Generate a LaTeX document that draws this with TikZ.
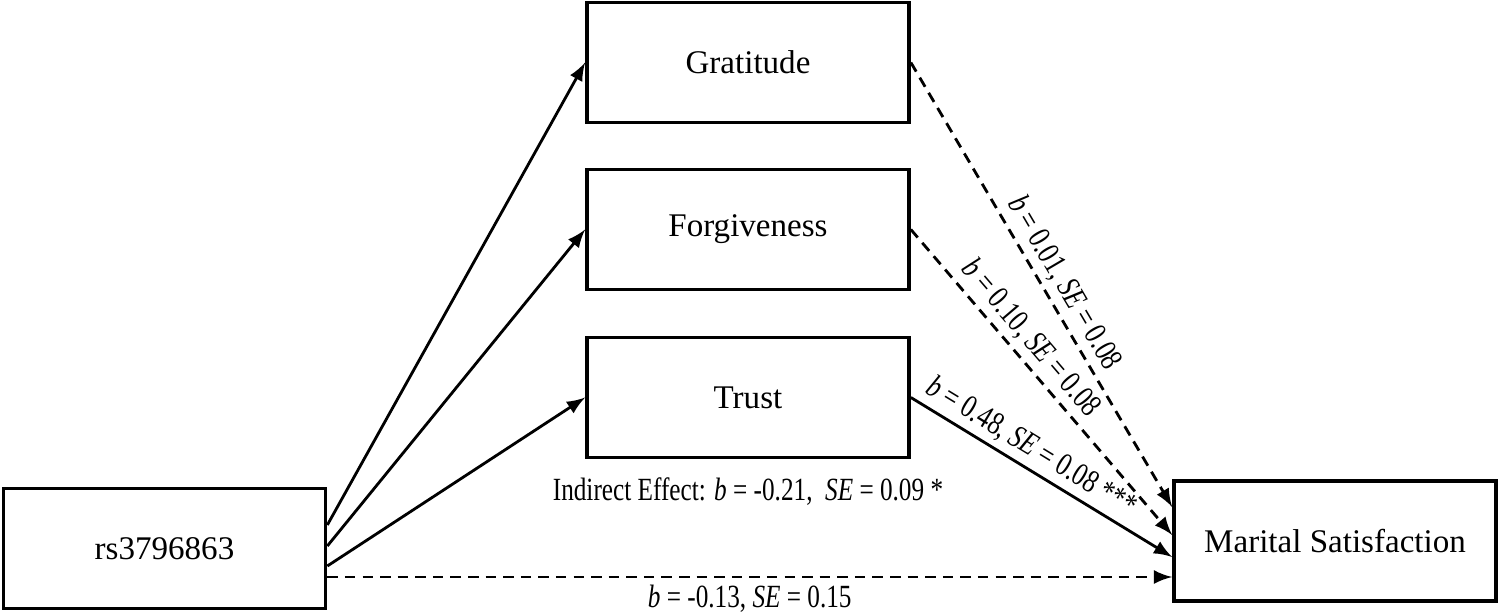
\documentclass[tikz,border=0pt]{standalone}
\usepackage{fontspec}
\setmainfont{Liberation Serif}
\newfontfamily\coeffont[FakeStretch=0.78]{Liberation Serif}
\usetikzlibrary{arrows, positioning}

\begin{document}
\begin{tikzpicture}[
    x=0.01cm, y=-0.01cm,
    var/.style={rectangle, draw, line width=1pt, minimum width=3.22cm, minimum height=1.2cm, inner sep=0pt, font=\fontsize{9.4}{11}\selectfont},
    path/.style={-latex, line width=0.8pt},
    nspath/.style={path, dash pattern=on 3pt off 2pt},
    coef/.style={font=\coeffont\fontsize{9.2}{11}\selectfont, inner sep=1.5pt}
]
\useasboundingbox (0,0) rectangle (1499,616);
\node[var] (snp) at (164.5, 548.5) {rs3796863};
\node[var] (grat) at (748, 62.5) {Gratitude};
\node[var] (forg) at (748, 229.5) {Forgiveness};
\node[var] (trust) at (748, 397.5) {Trust};
\node[var] (ms) at (1335, 541) {Marital Satisfaction};
% predictor to mediators
\draw[path] ([yshift=0.235cm]snp.east) -- (grat.west);
\draw[path] ([yshift=0.025cm]snp.east) -- (forg.west);
\draw[path] ([yshift=-0.175cm]snp.east) -- (trust.west);
% mediators to outcome
\draw[nspath] (grat.east) -- ([yshift=0.34cm]ms.west)
    node[coef, pos=0.52, sloped, above] {\textit{b} = 0.01, \textit{SE} = 0.08};
\draw[nspath] (forg.east) -- ([yshift=0.06cm]ms.west)
    node[coef, pos=0.4, sloped, above] {\textit{b} = 0.10, \textit{SE} = 0.08};
\draw[path] (trust.east) -- ([yshift=-0.16cm]ms.west)
    node[coef, pos=0.42, sloped, above] {\textit{b} = 0.48, \textit{SE} = 0.08 ***};
% direct effect
\draw[nspath] ([yshift=-0.285cm]snp.east) -- ([yshift=-0.285cm]snp.east -| ms.west)
    node[coef, midway, below=0.5pt] {\textit{b} = -0.13, \textit{SE} = 0.15};
\node[coef, below=0.12cm of trust] (indirect) {Indirect Effect: \textit{b} = -0.21, \ \textit{SE} = 0.09 *};
\end{tikzpicture}
\end{document}
